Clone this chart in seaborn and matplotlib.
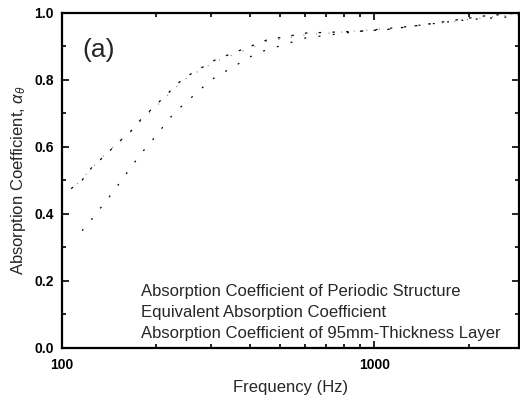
import numpy as np
import pandas as pd
import seaborn as sns
import matplotlib.pyplot as plt
from matplotlib.ticker import LogLocator, NullFormatter, FixedLocator, FixedFormatter, MultipleLocator

# valori (frequenza in Hz, coefficiente di assorbimento)
freq_periodic = [107, 116, 125, 134, 143, 150, 164, 176, 245, 310, 455, 527, 606, 890, 1090, 1320, 1570, 2200, 2900]
alpha_periodic = [0.475, 0.50, 0.54, 0.565, 0.59, 0.61, 0.64, 0.675, 0.805, 0.86, 0.92, 0.93, 0.94, 0.945, 0.95, 0.96, 0.97, 0.99, 1.0]

freq_equiv = [107, 120, 135, 150, 176, 245, 310, 455, 606, 1000, 1500, 2200, 2900]
alpha_equiv = [0.47, 0.52, 0.57, 0.61, 0.67, 0.80, 0.855, 0.915, 0.935, 0.95, 0.965, 0.985, 0.995]

freq_layer = [116, 119, 131, 139, 151, 179, 191, 228, 300, 420, 600, 890, 1300, 2000, 2900]
alpha_layer = [0.35, 0.36, 0.41, 0.44, 0.485, 0.58, 0.61, 0.70, 0.80, 0.88, 0.925, 0.945, 0.96, 0.98, 0.99]

labels = ["Absorption Coefficient of Periodic Structure",
          "Equivalent Absorption Coefficient",
          "Absorption Coefficient of 95mm-Thickness Layer"]

sns.set_theme(style="ticks")
plt.rcParams['font.family'] = ['Liberation Sans', 'DejaVu Sans']
plt.rcParams['mathtext.fontset'] = 'custom'
plt.rcParams['mathtext.it'] = 'Liberation Sans:italic'
plt.rcParams['mathtext.rm'] = 'Liberation Sans'

fig = plt.figure(figsize=(5.2, 4.03), dpi=100)
ax = fig.add_axes([0.119, 0.137, 0.879, 0.831])

df1 = pd.DataFrame({'f': freq_periodic, 'a': alpha_periodic})
df2 = pd.DataFrame({'f': freq_equiv, 'a': alpha_equiv})
df3 = pd.DataFrame({'f': freq_layer, 'a': alpha_layer})

# linee molto sbiadite come nella scansione originale
sns.lineplot(data=df1, x='f', y='a', ax=ax, color='black', lw=0.9, linestyle=(0, (2, 9)), label=labels[0])
sns.lineplot(data=df2, x='f', y='a', ax=ax, color='black', lw=0.7, linestyle=(4, (1, 12)), alpha=0.6, label=labels[1])
sns.lineplot(data=df3, x='f', y='a', ax=ax, color='black', lw=0.9, linestyle=(0, (1.5, 10)), label=labels[2])

ax.set_xscale('log')
ax.set_xlim(100, 2900)
ax.set_ylim(0, 1.0)

ax.xaxis.set_major_locator(FixedLocator([100, 1000]))
ax.xaxis.set_major_formatter(FixedFormatter(['100', '1000']))
ax.xaxis.set_minor_locator(LogLocator(base=10, subs=np.arange(2, 10)))
ax.xaxis.set_minor_formatter(NullFormatter())
ax.yaxis.set_major_locator(MultipleLocator(0.2))
ax.yaxis.set_minor_locator(MultipleLocator(0.1))
ax.yaxis.set_major_formatter(plt.FuncFormatter(lambda v, p: f"{v:.1f}"))

ax.tick_params(which='both', direction='in', top=True, right=True, width=1.2, colors='black', labelsize=10)
ax.tick_params(which='major', length=5)
ax.tick_params(which='minor', length=3)
ax.tick_params(axis='x', which='major', pad=7)
ax.tick_params(axis='y', which='major', pad=6)
for lab in ax.get_xticklabels() + ax.get_yticklabels():
    lab.set_fontweight('bold')
for s in ax.spines.values():
    s.set_linewidth(1.6)
    s.set_color('black')

ax.set_xlabel("Frequency (Hz)", fontsize=12, labelpad=6)
ax.set_ylabel(r"Absorption Coefficient, $\alpha_\theta$", fontsize=12, labelpad=4)

ax.text(0.044, 0.89, "(a)", transform=ax.transAxes, fontsize=19, va='center', ha='left')

leg = ax.legend(loc='lower left', bbox_to_anchor=(0.173, 0.02), frameon=False,
                handlelength=0, handletextpad=0, borderpad=0, borderaxespad=0,
                labelspacing=0.35, fontsize=12)
for h in leg.legend_handles:
    h.set_visible(False)

fig.savefig("out.png", dpi=100)
